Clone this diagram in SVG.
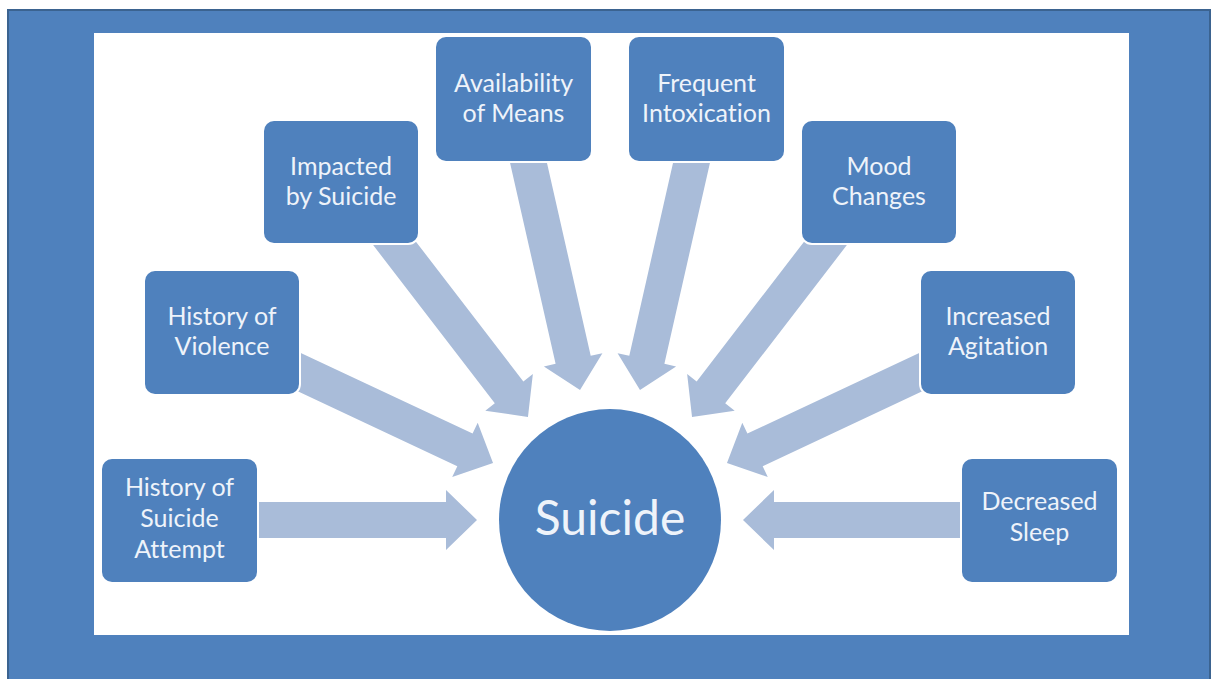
<svg xmlns="http://www.w3.org/2000/svg" width="1216" height="679" viewBox="0 0 1216 679">
<style>
.box{fill:#4f81bd;stroke:#ffffff;stroke-width:4;paint-order:stroke}
.lbl{font-family:Lato,"Open Sans","Liberation Sans",sans-serif;font-size:25px;fill:#eef3fa;text-anchor:middle;font-variant-ligatures:none}
.big{font-family:Lato,"Open Sans","Liberation Sans",sans-serif;font-size:48px;fill:#eef3fa;text-anchor:middle;font-variant-ligatures:none}
.arr{fill:#a9bcd9}
</style>
<rect x="0" y="0" width="1216" height="679" fill="#ffffff"/>
<rect x="8" y="10" width="1202" height="680" fill="#4f81bd" stroke="#3b6390" stroke-width="2"/>
<rect x="94" y="33" width="1035" height="602" fill="#ffffff"/>
<g id="connectors">
  <path class="arr" transform="translate(250,520)" d="M0,-18 H196 V-30 L227,0 L196,30 V18 H0Z"/>
  <path class="arr" transform="translate(970,520) rotate(180)" d="M0,-18 H196 V-30 L227,0 L196,30 V18 H0Z"/>
  <path class="arr" transform="translate(280.9,363.5) rotate(25.13)" d="M0,-18 H203.3 V-30 L234.3,0 L203.3,30 V18 H0Z"/>
  <path class="arr" transform="translate(939.1,363.5) rotate(154.87)" d="M0,-18 H203.3 V-30 L234.3,0 L203.3,30 V18 H0Z"/>
  <path class="arr" transform="translate(382.8,228.1) rotate(52.45)" d="M0,-18 H207.2 V-30 L238.2,0 L207.2,30 V18 H0Z"/>
  <path class="arr" transform="translate(837.2,228.1) rotate(127.55)" d="M0,-18 H207.2 V-30 L238.2,0 L207.2,30 V18 H0Z"/>
  <path class="arr" transform="translate(525.7,150.4) rotate(77.23)" d="M0,-18 H214.7 V-30 L245.7,0 L214.7,30 V18 H0Z"/>
  <path class="arr" transform="translate(694.3,150.4) rotate(102.77)" d="M0,-18 H214.7 V-30 L245.7,0 L214.7,30 V18 H0Z"/>
</g>
<g id="node-suicide">
  <circle cx="610" cy="520" r="111" fill="#4f81bd" stroke="#ffffff" stroke-width="4" paint-order="stroke"/>
  <text class="big" x="610" y="535">Suicide</text>
</g>
<g id="node-history-suicide-attempt">
  <rect class="box" x="102" y="459" width="155" height="123" rx="10"/>
  <text class="lbl" x="179.5" y="496">History of</text>
  <text class="lbl" x="179.5" y="527">Suicide</text>
  <text class="lbl" x="179.5" y="558">Attempt</text>
</g>
<g id="node-history-violence">
  <rect class="box" x="145" y="271" width="154" height="123" rx="10"/>
  <text class="lbl" x="222" y="325">History of</text>
  <text class="lbl" x="222" y="355">Violence</text>
</g>
<g id="node-impacted">
  <rect class="box" x="264" y="121" width="154" height="122" rx="10"/>
  <text class="lbl" x="341" y="175">Impacted</text>
  <text class="lbl" x="341" y="205">by Suicide</text>
</g>
<g id="node-availability">
  <rect class="box" x="436" y="37" width="155" height="124" rx="10"/>
  <text class="lbl" x="513.5" y="92">Availability</text>
  <text class="lbl" x="513.5" y="122">of Means</text>
</g>
<g id="node-frequent">
  <rect class="box" x="629" y="37" width="155" height="124" rx="10"/>
  <text class="lbl" x="706.5" y="92">Frequent</text>
  <text class="lbl" x="706.5" y="122">Intoxication</text>
</g>
<g id="node-mood">
  <rect class="box" x="802" y="121" width="154" height="122" rx="10"/>
  <text class="lbl" x="879" y="175">Mood</text>
  <text class="lbl" x="879" y="205">Changes</text>
</g>
<g id="node-agitation">
  <rect class="box" x="921" y="271" width="154" height="123" rx="10"/>
  <text class="lbl" x="998" y="325">Increased</text>
  <text class="lbl" x="998" y="355">Agitation</text>
</g>
<g id="node-decreased-sleep">
  <rect class="box" x="962" y="459" width="155" height="123" rx="10"/>
  <text class="lbl" x="1039.5" y="510">Decreased</text>
  <text class="lbl" x="1039.5" y="541">Sleep</text>
</g>
</svg>
